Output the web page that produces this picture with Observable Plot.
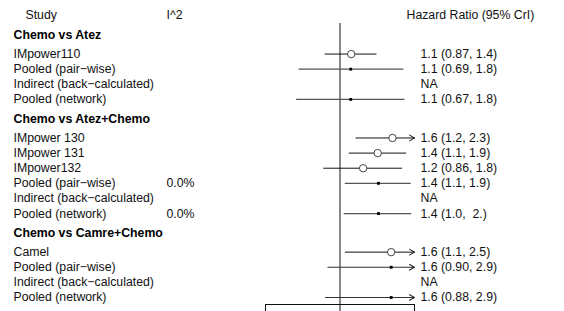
<!DOCTYPE html>
<html>
<head>
<meta charset="utf-8">
<script src="https://cdn.jsdelivr.net/npm/d3@7"></script>
<script src="https://cdn.jsdelivr.net/npm/@observablehq/plot@0.6"></script>
<style>
  html, body { margin: 0; padding: 0; background: #fff; }
  svg text { white-space: pre; }
</style>
</head>
<body>
<div id="chart"></div>
<script>
// ---- data ----
const groupNames = ["Chemo vs Atez", "Chemo vs Atez+Chemo", "Chemo vs Camre+Chemo"];
const rowGroup = [0, 0, 0, 0, 1, 1, 1, 1, 1, 1, 2, 2, 2, 2];
const rowLabel = [
  "IMpower110", "Pooled (pair\u2212wise)", "Indirect (back\u2212calculated)", "Pooled (network)",
  "IMpower 130", "IMpower 131", "IMpower132", "Pooled (pair\u2212wise)", "Indirect (back\u2212calculated)", "Pooled (network)",
  "Camel", "Pooled (pair\u2212wise)", "Indirect (back\u2212calculated)", "Pooled (network)"
];
const rowType = [
  "study", "pooled", "na", "pooled",
  "study", "study", "study", "pooled", "na", "pooled",
  "study", "pooled", "na", "pooled"
];
const hrEst = [1.11, 1.105, null, 1.105, 1.63, 1.42, 1.24, 1.43, null, 1.43, 1.61, 1.61, null, 1.61];
const hrLow = [0.87, 0.683, null, 0.668, 1.16, 1.09, 0.86, 1.05, null, 1.04, 1.05, 0.894, null, 0.874];
const hrHigh = [1.41, 1.81, null, 1.83, 2.3, 1.86, 1.79, 1.94, null, 1.95, 2.5, 2.9, null, 2.9];
const hrText = [
  "1.1 (0.87, 1.4)", "1.1 (0.69, 1.8)", "NA", "1.1 (0.67, 1.8)",
  "1.6 (1.2, 2.3)", "1.4 (1.1, 1.9)", "1.2 (0.86, 1.8)", "1.4 (1.1, 1.9)", "NA", "1.4 (1.0,  2.)",
  "1.6 (1.1, 2.5)", "1.6 (0.90, 2.9)", "NA", "1.6 (0.88, 2.9)"
];
const i2Text = ["", "", "", "", "", "", "", "0.0%", "", "0.0%", "", "", "", ""];
const headers = {study: "Study", i2: "I^2", hr: "Hazard Ratio (95% CrI)"};
const xDomain = [0.5, 2];
const xTicks = [0.5, 1, 2];

// ---- layout of rows (computed) ----
const groupRows = [];
const rows = [];
let pos = 0;
groupNames.forEach((g, gi) => {
  pos += 1.3;
  groupRows.push({name: g, y: pos});
  let first = true;
  rowLabel.forEach((lab, i) => {
    if (rowGroup[i] !== gi) return;
    pos += first ? 1.25 : 1;
    first = false;
    rows.push({
      label: lab, type: rowType[i], est: hrEst[i], lo: hrLow[i], hi: hrHigh[i],
      txt: hrText[i], i2: i2Text[i], y: pos
    });
  });
});
const yMax = pos;
const xMax = xDomain[1];
const withCI = rows.filter(d => d.type !== "na");
const plainCI = withCI.filter(d => d.hi <= xMax);
const arrowCI = withCI.filter(d => d.hi > xMax);
const font = "Liberation Sans, Arial, Helvetica, sans-serif";
const fs = 12.3;

const chart = Plot.plot({
  width: 564,
  height: 311,
  marginLeft: 265,
  marginRight: 150,
  marginTop: 23,
  marginBottom: 7,
  style: {fontFamily: font, fontSize: fs + "px", color: "#111", background: "#fff"},
  x: {type: "log", domain: xDomain, label: null},
  y: {domain: [0, yMax], range: [15, 297], axis: null},
  marks: [
    Plot.frame({anchor: "bottom", stroke: "#111"}),
    Plot.axisX({ticks: xTicks, tickSize: 12, tickFormat: () => "", label: null, stroke: "#111"}),
    Plot.ruleX([1], {stroke: "#111", strokeWidth: 1}),
    // CI lines
    Plot.ruleY(plainCI, {y: "y", x1: "lo", x2: "hi",
      stroke: d => d.type === "study" ? "#111" : "#555",
      strokeWidth: d => d.type === "study" ? 1 : 1.3}),
    Plot.arrow(arrowCI, {x1: "lo", x2: () => xMax, y1: "y", y2: "y", bend: 0,
      headLength: 8.5, headAngle: 60,
      stroke: d => d.type === "study" ? "#111" : "#333",
      strokeWidth: d => d.type === "study" ? 1 : 1.2}),
    // point estimates
    Plot.dot(withCI.filter(d => d.type === "study"), {x: "est", y: "y", r: 3.7,
      fill: "#fff", stroke: "#444", strokeWidth: 1}),
    Plot.dot(withCI.filter(d => d.type === "pooled"), {x: "est", y: "y", r: 1.6,
      symbol: "square", fill: "#000", stroke: null}),
    // headers
    Plot.text([headers.study], {text: d => d, frameAnchor: "left", y: () => 0, dx: -240,
      textAnchor: "start", fontSize: fs, fill: "#111"}),
    Plot.text([headers.i2], {text: d => d, frameAnchor: "left", y: () => 0, dx: -99,
      textAnchor: "start", fontSize: fs, fill: "#111"}),
    Plot.text([headers.hr], {text: d => d, frameAnchor: "right", y: () => 0, dx: -8,
      textAnchor: "start", fontSize: fs, fill: "#111"}),
    // group headings
    Plot.text(groupRows, {text: "name", y: "y", frameAnchor: "left", dx: -252,
      textAnchor: "start", fontWeight: "bold", fontSize: fs, fill: "#000"}),
    // row labels
    Plot.text(rows, {text: "label", y: "y", frameAnchor: "left", dx: -252,
      textAnchor: "start", fontSize: fs, fill: "#111"}),
    Plot.text(rows.filter(d => d.i2), {text: "i2", y: "y", frameAnchor: "left", dx: -99,
      textAnchor: "start", fontSize: fs, fill: "#111"}),
    Plot.text(rows, {text: "txt", y: "y", frameAnchor: "right", dx: 6,
      textAnchor: "start", fontSize: fs, fill: "#111"})
  ]
});
document.getElementById("chart").appendChild(chart);
</script>
</body>
</html>
